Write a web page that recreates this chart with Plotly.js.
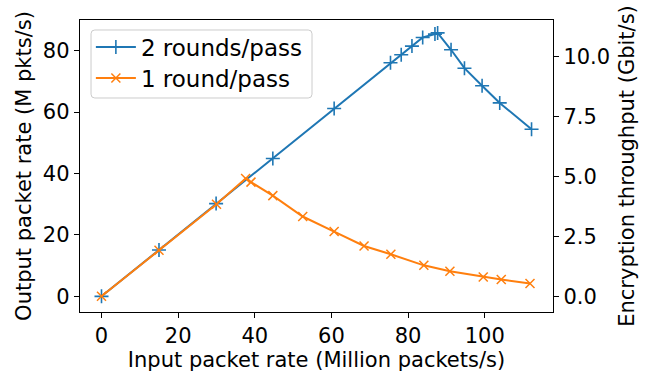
<!DOCTYPE html>
<html>
<head>
<meta charset="utf-8">
<script src="https://cdn.plot.ly/plotly-3.0.1.min.js"></script>
<style>html,body{margin:0;padding:0;background:#fff;} #chart{width:648px;height:372px;}</style>
</head>
<body>
<div id="chart"></div>
<script>
// Data
const twoRoundsX = [0, 15.0, 29.9, 44.7, 60.7, 75.4, 78.2, 81.0, 83.8, 87.0, 87.7, 91.2, 94.7, 99.3, 103.9, 112.2];
const twoRoundsY = [0, 15.1, 30.2, 44.9, 61.2, 76.1, 78.7, 81.5, 84.3, 85.4, 85.8, 80.3, 74.3, 68.6, 63.0, 54.4];
const oneRoundX = [0, 15.0, 30.0, 37.6, 39.0, 44.7, 52.5, 60.7, 68.5, 75.5, 84.1, 90.9, 99.6, 104.3, 111.8];
const oneRoundY = [0, 15.0, 30.0, 38.4, 37.2, 32.8, 26.0, 21.1, 16.4, 13.7, 10.1, 8.2, 6.3, 5.5, 4.2];
const seriesNames = ["2 rounds/pass", "1 round/pass"];
const xTicks = [0, 20, 40, 60, 80, 100];
const yTicks = [0, 20, 40, 60, 80];
const y2Ticks = [0, 2.5, 5, 7.5, 10];
const y2TickLabels = ["0.0", "2.5", "5.0", "7.5", "10.0"];

const FONT = "DejaVu Sans, Liberation Sans, sans-serif";
const FS = 21;
const LFS = 23;

const traces = [
  {
    x: twoRoundsX, y: twoRoundsY, name: seriesNames[0], type: "scatter", mode: "lines+markers",
    legend: "legend",
    line: {color: "#1f77b4", width: 2},
    marker: {symbol: "cross-thin", size: 10, line: {color: "#1f77b4", width: 1.6}, color: "#1f77b4"}
  },
  {
    x: oneRoundX, y: oneRoundY, name: seriesNames[1], type: "scatter", mode: "lines+markers",
    legend: "legend2",
    line: {color: "#ff7f0e", width: 2},
    marker: {symbol: "x-thin", size: 9, line: {color: "#ff7f0e", width: 1.5}, color: "#ff7f0e"}
  },
  {
    x: [], y: [], yaxis: "y2", type: "scatter", mode: "lines", showlegend: false, hoverinfo: "skip"
  }
];

function legendAt(yc) {
  return {
    x: 0.023, y: yc, xanchor: "left", yanchor: "middle",
    bgcolor: "rgba(0,0,0,0)", borderwidth: 0,
    font: {family: FONT, size: LFS, color: "#000"},
    itemwidth: 40
  };
}

// legend frame (rounded box), paper coords of the plot area
const bx0 = 0.0233, bx1 = 0.4905, by0 = 0.7329, by1 = 0.9658;
const rx = 0.008, ry = 0.013;
const framePath =
  `M ${bx0 + rx},${by1} L ${bx1 - rx},${by1} Q ${bx1},${by1} ${bx1},${by1 - ry} ` +
  `L ${bx1},${by0 + ry} Q ${bx1},${by0} ${bx1 - rx},${by0} L ${bx0 + rx},${by0} ` +
  `Q ${bx0},${by0} ${bx0},${by0 + ry} L ${bx0},${by1 - ry} Q ${bx0},${by1} ${bx0 + rx},${by1} Z`;

const layout = {
  width: 648, height: 372,
  margin: {l: 80, r: 95, t: 20, b: 60},
  paper_bgcolor: "#fff", plot_bgcolor: "#fff",
  font: {family: FONT, size: FS, color: "#000"},
  showlegend: true,
  legend: legendAt(0.9075),
  legend2: legendAt(0.8014),
  shapes: [{
    type: "path", xref: "paper", yref: "paper", path: framePath,
    line: {color: "#cccccc", width: 1}, fillcolor: "rgba(255,255,255,0.8)", layer: "above"
  }],
  xaxis: {
    range: [-5.61, 117.8], tickvals: xTicks, ticktext: xTicks.map(String),
    showgrid: false, zeroline: false, showline: true, linecolor: "#000", linewidth: 1.2, mirror: true,
    ticks: "outside", ticklen: 5, tickwidth: 1, tickcolor: "#000",
    tickfont: {family: FONT, size: FS, color: "#000"},
    title: {text: "Input packet rate (Million packets/s)", font: {family: FONT, size: FS, color: "#000"}, standoff: 0}
  },
  yaxis: {
    range: [-5.1, 90.0], tickvals: yTicks, ticktext: yTicks.map(String),
    showgrid: false, zeroline: false, showline: true, linecolor: "#000", linewidth: 1.2, mirror: true,
    ticks: "outside", ticklen: 5, tickwidth: 1, tickcolor: "#000",
    tickfont: {family: FONT, size: FS, color: "#000"},
    title: {text: "Output packet rate (M pkts/s)", font: {family: FONT, size: FS, color: "#000"}, standoff: 5}
  },
  yaxis2: {
    overlaying: "y", side: "right", anchor: "x",
    range: [-0.655, 11.52], tickvals: y2Ticks, ticktext: y2TickLabels,
    showgrid: false, zeroline: false, showline: true, linecolor: "#000", linewidth: 1.2,
    ticks: "outside", ticklen: 5, tickwidth: 1, tickcolor: "#000",
    tickfont: {family: FONT, size: FS, color: "#000"},
    title: {text: "Encryption throughput (Gbit/s)", font: {family: FONT, size: FS, color: "#000"}, standoff: 10}
  }
};

Plotly.newPlot("chart", traces, layout, {displayModeBar: false, staticPlot: true});
</script>
</body>
</html>
